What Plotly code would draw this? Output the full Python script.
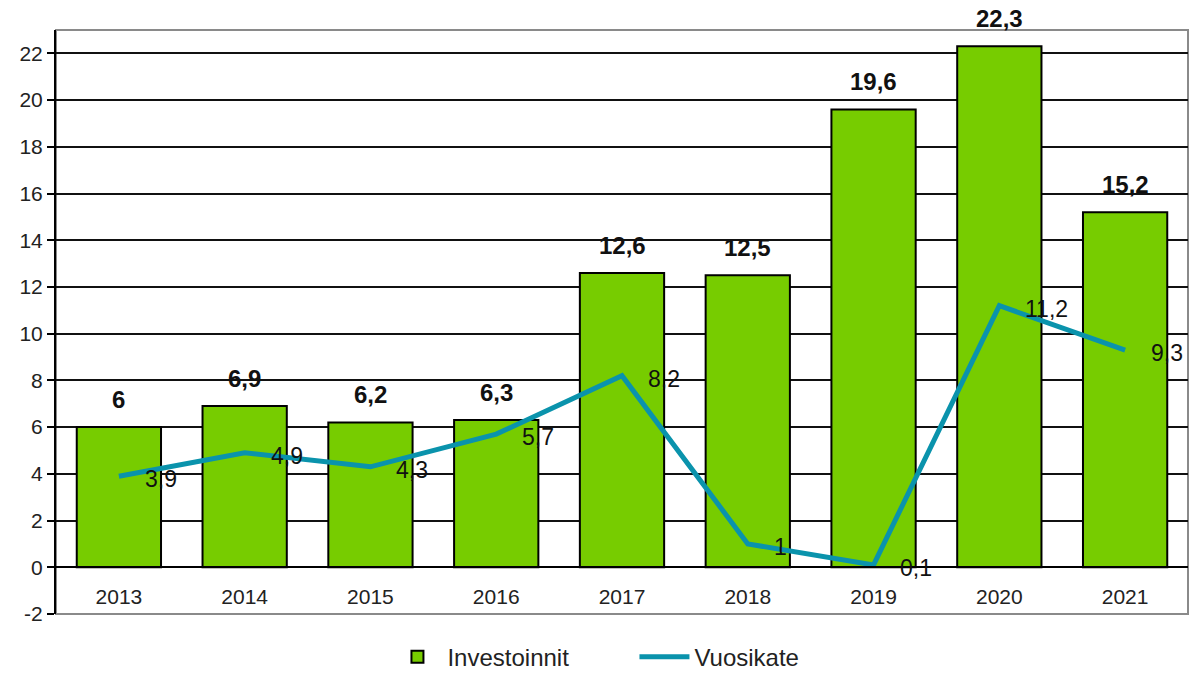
import plotly.graph_objects as go

years = ["2013", "2014", "2015", "2016", "2017", "2018", "2019", "2020", "2021"]
investoinnit = [6, 6.9, 6.2, 6.3, 12.6, 12.5, 19.6, 22.3, 15.2]
vuosikate = [3.9, 4.9, 4.3, 5.7, 8.2, 1, 0.1, 11.2, 9.3]
y_ticks = list(range(-2, 23, 2))
y_tick_labels = [str(v) for v in y_ticks]

def fi(v):
    return (f"{v:g}").replace(".", ",")

FONT = "Liberation Sans, Arial, sans-serif"

fig = go.Figure()
fig.add_trace(go.Bar(
    x=years, y=investoinnit, name="Investoinnit",
    marker=dict(color="#77CC00", line=dict(color="#000000", width=2)),
    width=0.67,
))
fig.add_trace(go.Scatter(
    x=years, y=vuosikate, name="Vuosikate", mode="lines",
    line=dict(color="#0A93AC", width=5),
))

annotations = []
for i, v in enumerate(investoinnit):
    annotations.append(dict(x=i, y=v, text=fi(v), showarrow=False,
                            xanchor="center", yanchor="bottom", yshift=12,
                            font=dict(family=FONT, size=24, color="#111111", weight="bold")))
for i, v in enumerate(vuosikate):
    annotations.append(dict(x=i, y=v, text=fi(v), showarrow=False,
                            xanchor="left", yanchor="middle", xshift=24, yshift=-3,
                            font=dict(family=FONT, size=23, color="#111111")))

fig.update_layout(
    width=1192, height=674,
    margin=dict(l=56, r=4, t=30, b=60),
    paper_bgcolor="white", plot_bgcolor="white",
    font=dict(family=FONT, color="#222222"),
    showlegend=True,
    legend=dict(orientation="h", x=0.511, xanchor="center",
                yref="container", y=0.025, yanchor="middle",
                font=dict(size=24, color="#222222"), entrywidth=182, itemwidth=50),
    xaxis=dict(
        type="category", categoryorder="array", categoryarray=years,
        range=[-0.5, len(years) - 0.5],
        anchor="free", position=2/25, automargin=False,
        showline=True, linecolor="#000000", linewidth=2,
        ticks="", tickfont=dict(size=21, color="#222222"), ticklabelstandoff=11,
        showgrid=False, zeroline=False,
    ),
    yaxis=dict(
        range=[-2, 23], tickvals=y_ticks, ticktext=y_tick_labels, automargin=False,
        showline=True, linecolor="#000000", linewidth=2,
        ticks="outside", ticklen=7, tickcolor="#000000", tickwidth=1.5,
        tickfont=dict(size=21, color="#222222"),
        showgrid=True, gridcolor="#111111", gridwidth=1.5,
        zeroline=True, zerolinecolor="#000000", zerolinewidth=2,
    ),
    annotations=annotations,
    shapes=[dict(type="rect", xref="paper", yref="paper", x0=0, x1=1, y0=0, y1=1,
                 line=dict(color="#8A8A8A", width=2), layer="below")],
)

post = ("document.body.style.margin='0';document.body.style.overflow='hidden';"
        "Plotly.relayout('{plot_id}', {width:1192, height:674});")
fig.write_html("out.html", post_script=post, config={"displayModeBar": False})
